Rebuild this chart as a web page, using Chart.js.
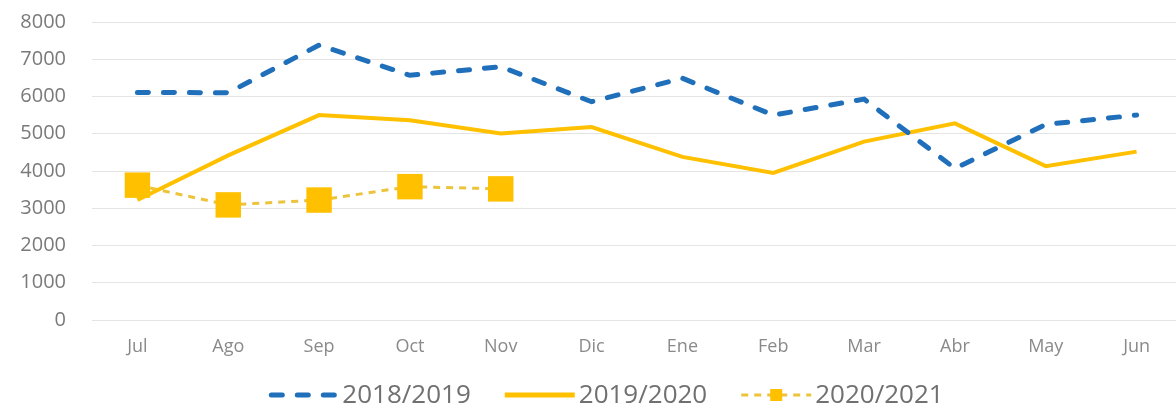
<!DOCTYPE html>
<html lang="es">
<head>
  <meta charset="UTF-8">
  <title>Mensual</title>
  <script src="https://cdn.jsdelivr.net/npm/chart.js"></script>
  <style>
    html, body { margin: 0; padding: 0; background: #fff; overflow: hidden; }
    .wrap { width: 1182px; height: 414px; }
  </style>
</head>
<body>
  <div class="wrap"><canvas id="lineChart" width="1182" height="414"></canvas></div>

  <script>
    const months = ['Jul', 'Ago', 'Sep', 'Oct', 'Nov', 'Dic', 'Ene', 'Feb', 'Mar', 'Abr', 'May', 'Jun'];
    const season1819 = [6110, 6100, 7380, 6570, 6800, 5860, 6490, 5500, 5930, 4070, 5250, 5500];
    const season1920 = [3220, 4420, 5500, 5360, 5010, 5180, 4380, 3950, 4790, 5280, 4130, 4520];
    const season2021 = [3620, 3090, 3220, 3580, 3520];
    const seriesNames = ['2018/2019', '2019/2020', '2020/2021'];

    const BLUE = '#1f6fba';
    const GOLD = '#ffc000';
    const GOLD_LIGHT = '#ecc43c';

    // legend drawn by hand so the line samples can show dashes + marker
    const legendPlugin = {
      id: 'customLegend',
      afterDraw(chart) {
        const ctx = chart.ctx;
        const items = [
          { text: seriesNames[0], color: BLUE, width: 5, dash: [11, 15], cap: 'round' },
          { text: seriesNames[1], color: GOLD, width: 5, dash: [], cap: 'butt' },
          { text: seriesNames[2], color: GOLD_LIGHT, width: 3, dash: [7, 6], cap: 'butt', marker: GOLD }
        ];
        const sample = 70, gap = 4, spacing = 34, y = 395;
        ctx.save();
        ctx.font = '26px "Open Sans"';
        ctx.textBaseline = 'middle';
        const widths = items.map(it => ctx.measureText(it.text).width);
        let total = 0;
        widths.forEach((w, i) => { total += sample + gap + w + (i ? spacing : 0); });
        let x = 606 - total / 2;
        items.forEach((it, i) => {
          ctx.strokeStyle = it.color;
          ctx.lineWidth = it.width;
          ctx.lineCap = it.cap;
          ctx.setLineDash(it.dash);
          ctx.beginPath();
          ctx.moveTo(x + (it.cap === 'round' ? 3 : 0), y);
          ctx.lineTo(x + sample, y);
          ctx.stroke();
          if (it.marker) {
            ctx.setLineDash([]);
            ctx.fillStyle = it.marker;
            ctx.fillRect(x + sample / 2 - 6, y - 6, 12, 12);
          }
          ctx.fillStyle = '#707070';
          ctx.fillText(it.text, x + sample + gap, y + 1);
          x += sample + gap + widths[i] + spacing;
        });
        ctx.restore();
      }
    };

    const ctx = document.getElementById('lineChart').getContext('2d');
    const lineChart = new Chart(ctx, {
      type: 'line',
      data: {
        labels: months,
        datasets: [
          {
            label: seriesNames[0],
            data: season1819,
            borderColor: BLUE,
            borderWidth: 5,
            borderDash: [11, 15],
            borderCapStyle: 'round',
            pointRadius: 0,
            tension: 0
          },
          {
            label: seriesNames[1],
            data: season1920,
            borderColor: GOLD,
            borderWidth: 4,
            pointRadius: 0,
            tension: 0
          },
          {
            label: seriesNames[2],
            data: season2021,
            borderColor: GOLD_LIGHT,
            borderWidth: 3,
            borderDash: [7, 6],
            pointStyle: 'rect',
            pointRadius: 18,
            pointBackgroundColor: GOLD,
            pointBorderWidth: 0,
            tension: 0
          }
        ]
      },
      options: {
        responsive: false,
        animation: false,
        layout: { autoPadding: false, padding: { top: 22, bottom: 54, left: 0, right: 0 } },
        plugins: {
          legend: { display: false },
          tooltip: { enabled: false }
        },
        scales: {
          x: {
            offset: true,
            grid: { display: false, drawTicks: false },
            border: { display: false },
            ticks: { color: '#8a8a8a', font: { family: 'Open Sans', size: 18 }, padding: 16 },
            afterFit: s => { s.height = 40; }
          },
          y: {
            min: 0,
            max: 8000,
            grid: { color: '#e4e4e4', lineWidth: 1, drawTicks: true, tickLength: 22, tickColor: 'rgba(0,0,0,0)' },
            border: { display: false },
            ticks: {
              stepSize: 1000,
              color: '#7a7a7a',
              font: { family: 'Open Sans', size: 20 },
              padding: 4,
              callback: v => String(v)
            },
            afterFit: s => { s.width = 92; }
          }
        }
      },
      plugins: [legendPlugin]
    });
  </script>
</body>
</html>
